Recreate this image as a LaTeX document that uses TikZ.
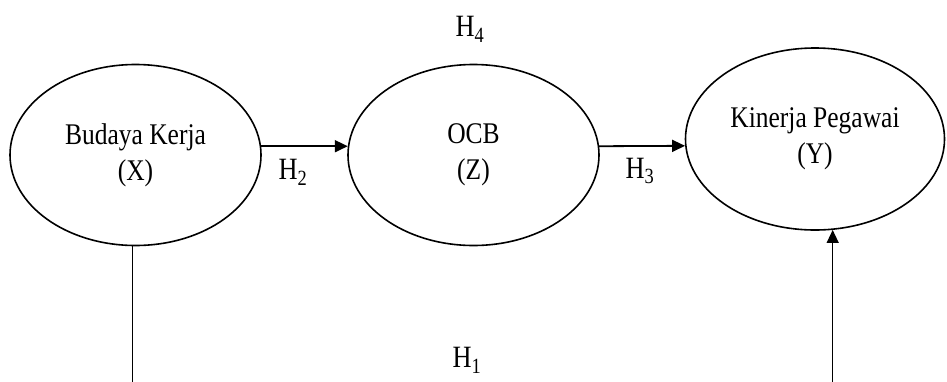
\documentclass[tikz,border=0pt]{standalone}
\usepackage{fontspec}
\setmainfont{Liberation Serif}[FakeStretch=0.85]
\usetikzlibrary{arrows.meta, shapes.geometric}

\begin{document}
\begin{tikzpicture}[x=1pt, y=-1pt,
    construct/.style={draw, ellipse, line width=1.6pt, minimum width=251pt, minimum height=181pt,
                 inner sep=0pt, align=center, font=\fontsize{30}{36}\selectfont},
    arr/.style={-{Triangle[length=13pt, width=12pt]}, line width=1.8pt},
    lbl/.style={font=\fontsize{31}{36}\selectfont, inner sep=0pt},
]
\useasboundingbox (0,0) rectangle (947,381);
\clip (0,0) rectangle (947,381);

\node[construct] (x) at (135.5,155) {Budaya Kerja\\(X)};
\node[construct] (z) at (473.5,155) {OCB\\(Z)};
\node[construct, minimum width=259pt, minimum height=182pt] (y) at (815,139) {Kinerja Pegawai\\(Y)};

\node[lbl] (h2) at (293,172) {H\textsubscript{2}};
\node[lbl] (h3) at (640,171) {H\textsubscript{3}};
\node[lbl] (h4) at (470,29) {H\textsubscript{4}};
\node[lbl] (h1) at (467,360) {H\textsubscript{1}};

\draw[arr] (x.4) -- (z.176);
\draw[arr] (z.4) -- (y.183);
\draw[arr, line width=1.3pt] (x.-92) -- ++(0,300) -| (y.-79);

\end{tikzpicture}
\end{document}
